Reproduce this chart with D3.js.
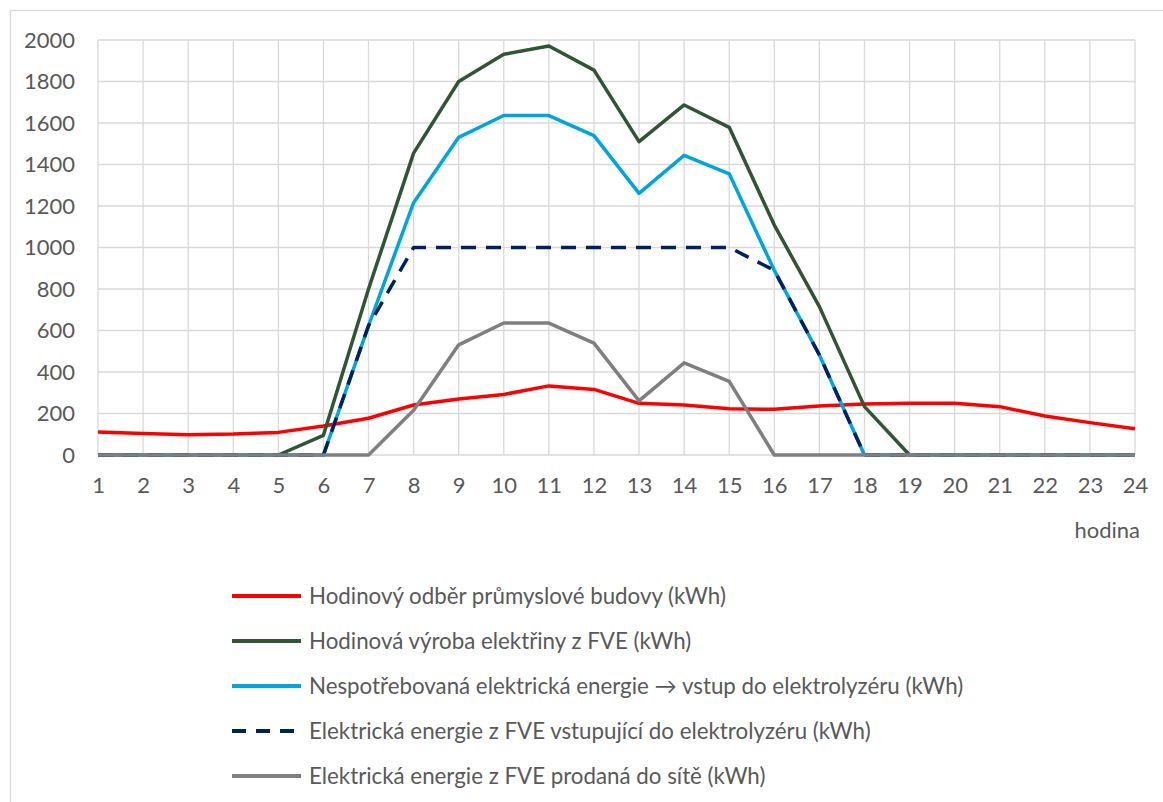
<!DOCTYPE html>
<html>
<head>
<meta charset="utf-8">
<script src="https://cdn.jsdelivr.net/npm/d3@7"></script>
<style>
	body { margin: 0; background: #fff; }
	svg text { font-family: Lato, "Open Sans", sans-serif; fill: #595959; }
</style>
</head>
<body>
<svg id="chart" width="1163" height="802"></svg>
<script>
var hours = d3.range(1, 25);
var yTicks = [0, 200, 400, 600, 800, 1000, 1200, 1400, 1600, 1800, 2000];

var consumption = [111, 104, 98, 101, 109, 140, 177, 241, 270, 292, 333, 316, 249, 241, 223, 220, 236, 246, 249, 249, 233, 188, 156, 127];
var production  = [0, 0, 0, 0, 0, 95, 800, 1455, 1800, 1931, 1971, 1855, 1510, 1687, 1579, 1108, 715, 233, 0, 0, 0, 0, 0, 0];
var surplus     = [0, 0, 0, 0, 0, 0, 623, 1216, 1531, 1636, 1636, 1539, 1261, 1444, 1355, 890, 482, 0, 0, 0, 0, 0, 0, 0];
var electrolyzer = [0, 0, 0, 0, 0, 0, 623, 1000, 1000, 1000, 1000, 1000, 1000, 1000, 1000, 890, 482, 0, 0, 0, 0, 0, 0, 0];
var sold        = [0, 0, 0, 0, 0, 0, 0, 216, 531, 636, 636, 539, 261, 444, 355, 0, 0, 0, 0, 0, 0, 0, 0, 0];

var series = [
	{name: "Hodinový odběr průmyslové budovy (kWh)", values: consumption, color: "#ff0000", dash: null},
	{name: "Hodinová výroba elektřiny z FVE (kWh)", values: production, color: "#2f5535", dash: null},
	{name: "Nespotřebovaná elektrická energie → vstup do elektrolyzéru (kWh)", values: surplus, color: "#00a5e0", dash: null},
	{name: "Elektrická energie z FVE vstupující do elektrolyzéru (kWh)", values: electrolyzer, color: "#002060", dash: "15,10"},
	{name: "Elektrická energie z FVE prodaná do sítě (kWh)", values: sold, color: "#7f7f7f", dash: null}
];

var svg = d3.select("#chart");

// outer chart frame
svg.append("rect")
	.attr("x", 10.5).attr("y", 10.5)
	.attr("width", 1170).attr("height", 820)
	.attr("fill", "none")
	.attr("stroke", "#d9d9d9")
	.attr("stroke-width", 1.3);

var x = d3.scaleLinear().domain([1, 24]).range([98, 1135]);
var y = d3.scaleLinear().domain([0, 2000]).range([455, 40]);

// grid
svg.append("g")
	.selectAll("line.h")
	.data(yTicks)
	.enter().append("line")
		.attr("x1", x(1)).attr("x2", x(24))
		.attr("y1", d => y(d)).attr("y2", d => y(d))
		.attr("stroke", "#d9d9d9")
		.attr("stroke-width", 1.3);

svg.append("g")
	.selectAll("line.v")
	.data(hours)
	.enter().append("line")
		.attr("x1", d => x(d)).attr("x2", d => x(d))
		.attr("y1", y(0)).attr("y2", y(2000))
		.attr("stroke", "#d9d9d9")
		.attr("stroke-width", 1.3);

// axes labels
var yAxis = svg.append("g")
	.attr("transform", "translate(75,0)")
	.call(d3.axisLeft(y).tickValues(yTicks).tickFormat(d3.format("d")).tickSize(0).tickPadding(0));
yAxis.select(".domain").remove();
yAxis.selectAll("text")
	.style("font-size", "22px")
	.attr("fill", "#595959");

var xAxis = svg.append("g")
	.attr("transform", "translate(0," + y(0) + ")")
	.call(d3.axisBottom(x).tickValues(hours).tickFormat(d3.format("d")).tickSize(0).tickPadding(22));
xAxis.select(".domain").remove();
xAxis.selectAll("text")
	.style("font-size", "22px")
	.attr("fill", "#595959");

svg.append("text")
	.attr("x", 1140).attr("y", 538)
	.attr("text-anchor", "end")
	.style("font-size", "22px")
	.text("hodina");

// lines
var line = d3.line()
	.x((d, i) => x(hours[i]))
	.y(d => y(d));

svg.append("g")
	.selectAll("path")
	.data(series)
	.enter().append("path")
		.attr("d", d => line(d.values))
		.attr("fill", "none")
		.attr("stroke", d => d.color)
		.attr("stroke-width", 3.5)
		.attr("stroke-dasharray", d => d.dash)
		.attr("stroke-linejoin", "round");

// legend
var legend = svg.append("g")
	.selectAll("g")
	.data(series)
	.enter().append("g")
		.attr("transform", (d, i) => "translate(232," + (596 + i * 45) + ")");

legend.append("line")
	.attr("x1", 0).attr("x2", 69)
	.attr("stroke", d => d.color)
	.attr("stroke-width", 4)
	.attr("stroke-dasharray", d => d.dash ? "14,10" : null);

legend.append("text")
	.attr("x", 77)
	.attr("dy", "0.35em")
	.style("font-size", "22.3px")
	.text(d => d.name);
</script>
</body>
</html>
